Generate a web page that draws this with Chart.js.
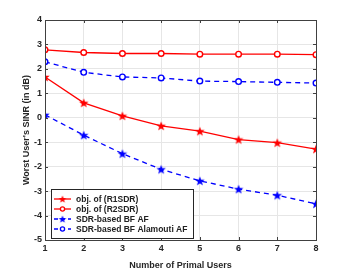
<!DOCTYPE html>
<html><head><meta charset="utf-8">
<script src="https://cdn.jsdelivr.net/npm/chart.js@4/dist/chart.umd.min.js"></script>
<style>html,body{margin:0;padding:0;background:#fff}#wrap{width:349px;height:271px}</style>
</head><body><div id="wrap"><canvas id="c" width="349" height="271"></canvas></div>
<script>
const users = [1,2,3,4,5,6,7,8];
const r1sdr = [1.67,0.61,0.08,-0.33,-0.55,-0.89,-1.02,-1.28];
const r2sdr = [2.78,2.67,2.63,2.63,2.60,2.60,2.60,2.58];
const sdrAF = [0.12,-0.71,-1.47,-2.11,-2.58,-2.92,-3.17,-3.52];
const alamoutiAF = [2.29,1.86,1.67,1.63,1.50,1.48,1.45,1.42];
const seriesLabels = ['obj. of (R1SDR)','obj. of (R2SDR)','SDR-based BF AF','SDR-based BF Alamouti AF'];
const xTicks = [1,2,3,4,5,6,7,8];
const yTicks = [-5,-4,-3,-2,-1,0,1,2,3,4];

const FONT = '"Liberation Sans", Arial, sans-serif';
function starImg(color, R, r){
  const s=Math.ceil(R*2+2), c=document.createElement('canvas'); c.width=s; c.height=s;
  const g=c.getContext('2d'); g.fillStyle=color; g.beginPath();
  const cx=s/2, cy=s/2+0.4;
  for(let i=0;i<10;i++){const a=-Math.PI/2+i*Math.PI/5; const rr=i%2?r:R; g.lineTo(cx+rr*Math.cos(a), cy+rr*Math.sin(a));}
  g.closePath(); g.fill(); return c;
}
const redStar = starImg('#ff0000',5,2.1), blueStar = starImg('#0000ff',5,2.1);
const redStarS = starImg('#ff0000',4,1.7), blueStarS = starImg('#0000ff',4,1.7);
const pts = arr => users.map((u,i)=>({x:u,y:arr[i]}));
const datasets = [
  {label:seriesLabels[0], data:pts(r1sdr), borderColor:'#ff0000', backgroundColor:'#ff0000', borderWidth:1.3, pointStyle:redStar, pointRadius:5, _mk:redStarS},
  {label:seriesLabels[1], data:pts(r2sdr), borderColor:'#ff0000', backgroundColor:'#ffffff', borderWidth:1.3, pointStyle:'circle', pointRadius:2.8, pointBorderWidth:1.4, _mk:'circle'},
  {label:seriesLabels[2], data:pts(sdrAF), borderColor:'#0000ff', backgroundColor:'#0000ff', borderWidth:1.3, borderDash:[5,4], pointStyle:blueStar, pointRadius:5, _mk:blueStarS},
  {label:seriesLabels[3], data:pts(alamoutiAF), borderColor:'#0000ff', backgroundColor:'#ffffff', borderWidth:1.3, borderDash:[5,4], pointStyle:'circle', pointRadius:2.8, pointBorderWidth:1.4, _mk:'circle'}
];
datasets.forEach(d=>{d.tension=0; d.pointBorderColor=d.borderColor; d.pointBackgroundColor=d.backgroundColor; d.fill=false;});

const framePlugin = {
  id:'frame',
  afterDatasetsDraw(chart){
    const {ctx, chartArea:a, scales} = chart;
    ctx.save();
    ctx.strokeStyle='#404040'; ctx.lineWidth=1;
    ctx.strokeRect(Math.round(a.left)+0.5, Math.round(a.top)+0.5, Math.round(a.right-a.left), Math.round(a.bottom-a.top));
    ctx.beginPath();
    xTicks.forEach(v=>{const x=Math.round(scales.x.getPixelForValue(v))+0.5; ctx.moveTo(x,a.bottom); ctx.lineTo(x,a.bottom-3); ctx.moveTo(x,a.top); ctx.lineTo(x,a.top+3);});
    yTicks.forEach(v=>{const y=Math.round(scales.y.getPixelForValue(v))+0.5; ctx.moveTo(a.left,y); ctx.lineTo(a.left+3,y); ctx.moveTo(a.right,y); ctx.lineTo(a.right-3,y);});
    ctx.stroke();
    const bx=51.5, by=189.5, bw=142, bh=49;
    ctx.fillStyle='#fff'; ctx.fillRect(bx,by,bw,bh);
    ctx.strokeStyle='#262626'; ctx.strokeRect(bx,by,bw,bh);
    ctx.font='bold 8.5px '+FONT; ctx.textBaseline='middle'; ctx.textAlign='left';
    chart.data.datasets.forEach((d,i)=>{
      const y = 199 + i*10;
      ctx.save();
      ctx.strokeStyle=d.borderColor; ctx.lineWidth=1.3;
      if(d.borderDash) ctx.setLineDash([4,3]);
      ctx.beginPath(); ctx.moveTo(54,y); ctx.lineTo(71,y); ctx.stroke();
      ctx.setLineDash([]);
      if(d._mk!=='circle'){ ctx.drawImage(d._mk, 62.5-d._mk.width/2, y-d._mk.height/2); }
      else { ctx.beginPath(); ctx.arc(62.5,y,2.1,0,Math.PI*2); ctx.fillStyle='#fff'; ctx.fill(); ctx.lineWidth=1.3; ctx.stroke(); }
      ctx.restore();
      ctx.fillStyle='#222'; ctx.fillText(d.label, 76, y+0.5);
    });
    ctx.restore();
  }
};

new Chart(document.getElementById('c'), {
  type:'line',
  data:{datasets},
  options:{
    responsive:false, animation:false, devicePixelRatio:1,
    layout:{padding:{left:21,right:33,top:20,bottom:0}},
    plugins:{legend:{display:false}, tooltip:{enabled:false}},
    scales:{
      x:{type:'linear', min:1, max:8,
        afterBuildTicks(s){s.ticks=xTicks.map(v=>({value:v}));},
        afterFit(s){s.height=31;},
        border:{display:false},
        grid:{color:'#e6e6e6', drawTicks:false, lineWidth:1},
        ticks:{padding:3, color:'#262626', font:{family:FONT, size:9, weight:'bold'}, maxRotation:0},
        title:{display:true, text:'Number of Primal Users', color:'#262626', font:{family:FONT, size:9, weight:'bold'}, padding:{top:3,bottom:0}}
      },
      y:{min:-5, max:4,
        afterBuildTicks(s){s.ticks=yTicks.map(v=>({value:v}));},
        afterFit(s){s.width=24;},
        border:{display:false},
        grid:{color:'#e6e6e6', drawTicks:false, lineWidth:1},
        ticks:{padding:3, color:'#262626', font:{family:FONT, size:9, weight:'bold'}},
        title:{display:true, text:"Worst User's SINR (in dB)", color:'#262626', font:{family:FONT, size:9, weight:'bold'}, padding:{top:0,bottom:2}}
      }
    }
  },
  plugins:[framePlugin]
});
</script></body></html>
